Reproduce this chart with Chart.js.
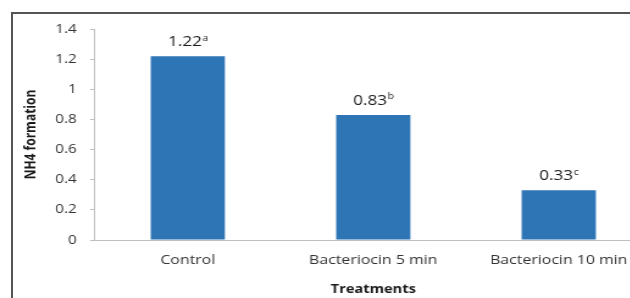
<!DOCTYPE html>
<html>
<head>
<meta charset="utf-8">
<script src="https://cdn.jsdelivr.net/npm/chart.js@4.4.1/dist/chart.umd.min.js"></script>
<style>
  html, body { margin: 0; padding: 0; background: #ffffff; overflow: hidden; width: 630px; height: 298px; }
  #frame { position: absolute; left: 11px; top: 12px; width: 700px; height: 400px;
           border-left: 2px solid #555555; border-top: 2px solid #555555; }
  #wrap { position: absolute; left: 0; top: 0; width: 540px; height: 298px;
          transform: scaleX(1.22); transform-origin: 0 0; }
</style>
</head>
<body>
<div id="frame"></div>
<div id="wrap"><canvas id="c" width="540" height="298"></canvas></div>
<script>
const categories = ['Control', 'Bacteriocin 5 min', 'Bacteriocin 10 min'];
const values = [1.22, 0.83, 0.33];
const letters = ['a', 'b', 'c'];
const yMin = 0;
const yMax = 1.4;
const yStep = 0.2;
const xTitle = 'Treatments';
const yTitle = 'NH4 formation';

const FONT = "'Open Sans', 'Liberation Sans', sans-serif";

const labelPlugin = {
  id: 'barLabels',
  afterDatasetsDraw(chart) {
    const ctx = chart.ctx;
    const meta = chart.getDatasetMeta(0);
    ctx.save();
    ctx.fillStyle = '#1a1a1a';
    ctx.textBaseline = 'alphabetic';
    ctx.textAlign = 'left';
    meta.data.forEach((bar, i) => {
      const main = String(values[i]);
      const sup = letters[i];
      ctx.font = "14px " + FONT;
      const w1 = ctx.measureText(main).width;
      ctx.font = "8.5px " + FONT;
      const w2 = ctx.measureText(sup).width;
      const x0 = bar.x - (w1 + w2) / 2;
      const yb = bar.y - 10;
      ctx.font = "14px " + FONT;
      ctx.fillText(main, x0, yb);
      ctx.font = "8.5px " + FONT;
      ctx.fillText(sup, x0 + w1 + 0.5, yb - 5.5);
    });
    ctx.restore();
  }
};

new Chart(document.getElementById('c'), {
  type: 'bar',
  data: {
    labels: categories,
    datasets: [{
      data: values,
      backgroundColor: '#2E75B6',
      borderWidth: 0,
      barPercentage: 0.4,
      categoryPercentage: 1.0
    }]
  },
  options: {
    responsive: false,
    animation: false,
    events: [],
    layout: { padding: { top: 29, right: 6, bottom: 0, left: 0 } },
    plugins: { legend: { display: false }, tooltip: { enabled: false } },
    scales: {
      x: {
        grid: { display: false, drawTicks: false },
        border: { display: true, color: '#BFBFBF', width: 1 },
        ticks: { color: '#333333', font: { family: FONT, size: 13 }, padding: 12, maxRotation: 0, autoSkip: false },
        title: { display: true, text: xTitle, color: '#1a1a1a',
                 font: { family: FONT, size: 12, weight: 'bold' }, padding: { top: 0, bottom: 1 } },
        afterFit(scale) { scale.height = 58; }
      },
      y: {
        min: yMin, max: yMax,
        grid: { drawOnChartArea: false, drawTicks: true, tickLength: 4, color: '#BFBFBF' },
        border: { display: true, color: '#BFBFBF', width: 1 },
        ticks: {
          stepSize: yStep, color: '#333333', padding: 11,
          font: { family: FONT, size: 12.5 },
          callback: (v) => String(Number(v.toFixed(1)))
        },
        title: { display: true, text: yTitle, color: '#1a1a1a',
                 font: { family: FONT, size: 12, weight: 'bold' }, padding: { top: 18, bottom: 0 } },
        afterFit(scale) { scale.width = 77.9; }
      }
    }
  },
  plugins: [labelPlugin]
});
</script>
</body>
</html>
